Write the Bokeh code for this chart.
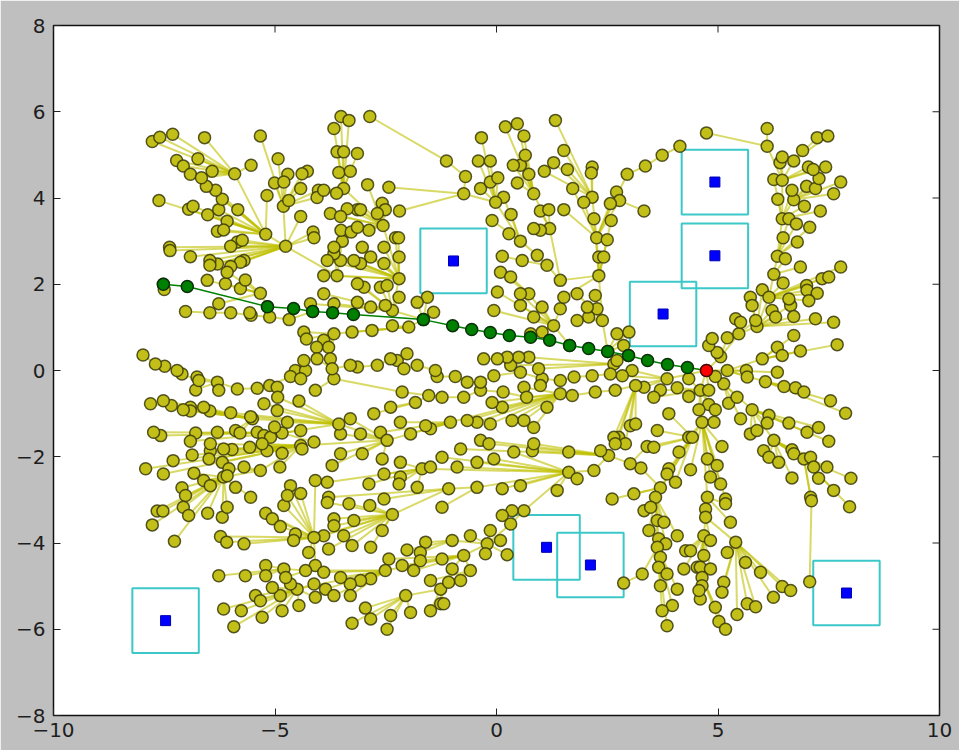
import math
from bokeh.plotting import figure
from bokeh.models import ColumnDataSource, FixedTicker, Range1d
from bokeh.embed import file_html
from bokeh.resources import INLINE

# ---------------- data ----------------
x_ticks = [-10, -5, 0, 5, 10]
y_ticks = [-8, -6, -4, -2, 0, 2, 4, 6, 8]
x_labels = {-10: "\u221210", -5: "\u22125", 0: "0", 5: "5", 10: "10"}
y_labels = {-8: "\u22128", -6: "\u22126", -4: "\u22124", -2: "\u22122", 0: "0", 2: "2", 4: "4", 6: "6", 8: "8"}
x_min, x_max = -10, 10
y_min, y_max = -8, 8

obs_x = [4.93, 4.93, 3.76, -0.97, 1.13, 2.12, 7.90, -7.47]
obs_y = [4.37, 2.66, 1.31, 2.54, -4.10, -4.51, -5.16, -5.80]
obs_side = 1.5

start_x = [4.74]
start_y = [0.00]

path_x = [-7.52, -6.98, -5.17, -4.58, -4.15, -3.70, -3.23, -1.65, -0.99, -0.56, -0.14,
          0.29, 0.77, 1.20, 1.65, 2.08, 2.51, 2.98, 3.41, 3.86, 4.31, 4.74]
path_y = [2.00, 1.95, 1.48, 1.44, 1.37, 1.34, 1.30, 1.18, 1.04, 0.95, 0.88,
          0.81, 0.77, 0.70, 0.58, 0.51, 0.44, 0.35, 0.23, 0.14, 0.07, 0.00]

# tree: fans = (hub, children) ; chains = consecutive nodes
fan_root = ((4.74, 0.00), [(5.06, 0.32), (5.21, 0.00), (5.13, -0.31), (4.60, -0.46), (4.79, -0.46), (3.85, -0.19), (4.94, -0.14)])
fan_ne1 = ((5.06, 0.32), [(4.98, 0.42), (4.79, 0.58), (5.21, 0.76), (5.47, 0.85)])
fan_ne1b = ((4.79, 0.58), [(4.87, 0.74)])
fan_ne2 = ((5.47, 0.85), [(5.88, 1.02), (5.85, 1.16), (5.40, 1.20), (5.51, 1.12)])
fan_ne3 = ((5.88, 1.02), [(5.73, 1.70), (5.77, 1.51), (6.00, 1.87), (6.15, 1.70), (6.22, 1.39), (6.30, 1.24), (6.64, 1.51), (6.71, 1.25), (7.20, 1.20), (7.61, 1.12)])
fan_ne4 = ((6.15, 1.70), [(6.26, 2.23), (6.47, 2.03), (6.60, 1.66), (7.00, 1.97), (7.01, 1.86), (7.24, 1.79), (7.05, 1.62), (7.35, 2.13), (7.50, 2.17), (7.77, 2.40)])
fan_ne5 = ((6.26, 2.23), [(6.34, 2.65), (6.52, 2.59), (6.86, 2.40)])
fan_ne6 = ((6.34, 2.65), [(6.47, 3.08), (6.79, 2.98), (6.45, 3.52), (6.60, 3.52), (6.77, 3.40), (7.07, 3.32)])
fan_ne7 = ((6.45, 3.52), [(6.35, 3.97), (6.71, 3.96), (6.95, 3.81), (7.31, 3.70), (6.26, 4.43), (6.45, 4.41), (6.67, 4.18)])
fan_ne8 = ((6.71, 3.96), [(7.00, 4.27), (7.20, 4.22), (7.28, 4.45), (7.61, 4.10), (7.77, 4.37)])
fan_ne9 = ((6.45, 4.41), [(6.40, 4.82), (6.45, 4.95), (6.71, 4.86), (7.04, 4.72), (7.15, 4.66), (7.43, 4.72), (6.11, 5.20)])
fan_ne10 = ((6.71, 4.86), [(6.91, 5.10), (7.24, 5.40), (7.48, 5.44)])
fan_ne11 = ((6.11, 5.20), [(6.11, 5.61), (4.74, 5.51)])
fan_e1 = ((5.21, 0.00), [(5.64, 0.00), (6.00, 0.27), (5.66, -0.15), (6.07, -0.26), (6.34, -0.04)])
fan_e2 = ((6.00, 0.27), [(6.34, 0.54), (6.45, 0.35), (6.86, 0.45), (6.71, 0.81), (7.69, 0.60)])
fan_e3 = ((6.07, -0.26), [(6.49, -0.37), (6.75, -0.40), (6.94, -0.50), (7.54, -0.70), (7.88, -0.99)])
fan_se1 = ((5.13, -0.31), [(5.24, -0.76), (5.43, -0.62), (5.77, -0.91), (5.51, -1.12)])
fan_se2 = ((5.77, -0.91), [(6.15, -1.04), (6.11, -1.22), (6.60, -1.22), (7.01, -1.43), (7.27, -1.32), (7.50, -1.64), (5.73, -1.47), (5.88, -1.39), (6.26, -1.62)])
fan_se3 = ((6.26, -1.62), [(6.03, -1.86), (6.15, -2.01), (6.37, -2.13), (6.67, -1.84), (6.71, -1.93), (6.94, -2.05), (7.09, -2.01), (7.16, -2.24), (7.46, -2.24), (6.67, -2.49)])
fan_se4 = ((6.94, -2.05), [(7.27, -2.50), (8.00, -2.50), (7.61, -2.78), (7.09, -2.94), (7.97, -3.16), (7.11, -3.02)])
fan_se5 = ((7.11, -3.02), [(7.07, -4.90)])
fan_s1 = ((4.60, -0.46), [(4.34, -0.19), (4.34, -0.60), (4.79, -0.79), (4.94, -0.91), (4.57, -0.91), (4.08, -0.40), (3.70, -0.45), (3.55, -0.62), (4.64, -1.20)])
fan_s2 = ((4.64, -1.20), [(4.91, -1.20), (4.34, -1.55), (4.42, -1.55), (5.09, -1.76), (4.76, -2.05), (4.98, -2.20), (4.38, -2.30), (4.83, -2.47), (5.06, -2.63), (4.76, -2.94), (5.17, -2.98)])
fan_s3 = ((4.42, -1.55), [(4.12, -1.89), (3.89, -2.28), (3.85, -2.40), (4.04, -2.59), (3.70, -2.72), (3.59, -2.94), (3.89, -1.00), (3.63, -1.39), (3.40, -1.76), (3.55, -1.78)])
fan_s4 = ((4.76, -2.94), [(4.72, -3.21), (4.72, -3.40), (5.17, -3.09), (5.28, -3.52)])
fan_s5 = ((4.72, -3.40), [(4.68, -3.83), (4.83, -3.94), (5.40, -3.98)])
fan_s6 = ((4.68, -3.83), [(4.27, -4.18), (4.38, -4.18), (4.23, -4.60), (4.53, -4.56), (4.68, -4.29), (4.60, -4.56), (4.83, -4.60), (4.64, -4.80)])
fan_s6b = ((4.64, -4.80), [(4.64, -4.99), (4.60, -5.30), (4.57, -5.10), (4.94, -5.49), (5.02, -5.82), (5.17, -6.00)])
fan_s7 = ((5.40, -3.98), [(5.21, -4.22), (5.62, -4.45), (5.96, -4.68), (5.13, -4.91), (5.09, -5.14), (5.43, -5.66), (5.66, -5.41), (5.85, -5.48), (6.25, -5.26), (6.45, -5.01), (6.64, -5.10)])
fan_s8 = ((3.59, -2.94), [(3.33, -3.25), (3.48, -3.17), (3.63, -3.48), (3.78, -3.52), (3.44, -3.71), (4.08, -3.83), (3.66, -3.90), (3.82, -4.02), (3.63, -4.10)])
fan_s9 = ((3.63, -4.10), [(3.70, -4.33), (3.66, -4.56), (3.85, -4.72), (3.70, -4.99), (4.08, -5.07), (3.97, -5.45), (3.74, -5.57), (3.85, -5.92), (3.29, -4.72)])
fan_s10 = ((3.29, -4.72), [(2.87, -4.93)])
fan_s11 = ((3.70, -2.72), [(3.26, -2.26), (3.10, -2.86), (2.61, -2.98)])

fan_m1 = ((3.85, -0.19), [(3.33, -0.39), (3.14, -0.35), (3.06, 0.00), (2.84, -0.12)])
fan_m2 = ((3.14, -0.35), [(3.02, -1.28), (3.14, -1.24), (2.76, -1.55), (2.65, -1.55), (2.91, -1.70), (2.68, -1.70)])
chain_w1 = [(3.14, -0.35), (2.68, -0.46), (2.23, -0.50), (1.71, -0.58), (1.44, -0.54), (0.68, -0.62), (0.15, -0.50), (-0.36, -0.46),
            (-0.74, -0.62), (-1.23, -0.62), (-1.53, -0.58), (-2.13, -0.50), (-3.67, -0.19), (-4.09, -0.46)]
chain_w2 = [(3.06, 0.00), (2.57, -0.08), (2.16, -0.12), (1.75, -0.15), (1.44, -0.23), (1.03, -0.19), (0.54, -0.04), (-0.06, -0.12),
            (-0.36, -0.27), (-0.66, -0.27), (-0.93, -0.14), (-1.34, -0.14), (-1.38, 0.00), (-1.79, 0.12), (-2.09, 0.04), (-2.24, 0.23),
            (-2.39, 0.27), (-2.69, 0.12), (-3.14, 0.08), (-3.30, 0.12), (-3.71, 0.04), (-4.05, 0.27), (-4.35, 0.23), (-4.54, 0.00),
            (-4.65, -0.14), (-5.12, -0.35), (-5.40, -0.41), (-5.85, -0.43), (-6.30, -0.27), (-6.72, -0.23), (-7.10, -0.08),
            (-7.21, 0.00), (-7.49, 0.10), (-7.70, 0.15), (-7.98, 0.36)]
fan_w2a = ((-4.54, 0.00), [(-4.31, 0.00)])
fan_w2b = ((-4.65, -0.14), [(-4.42, -0.19)])
fan_w2c = ((-5.12, -0.35), [(-4.95, -0.39)])
fan_w2d = ((-6.30, -0.27), [(-6.27, -0.46), (-6.79, -0.45), (-6.76, -0.15)])
fan_w2e = ((-2.24, 0.23), [(-2.02, 0.39)])
fan_w2f = ((1.03, -0.19), [(0.99, -0.35)])
chain_w3 = [(2.98, 0.35), (2.72, 0.23), (2.65, 0.15), (0.73, 0.31), (0.50, 0.31), (0.24, 0.31), (0.02, 0.27), (-0.29, 0.27)]
fan_w3 = ((2.65, 0.15), [(0.95, 0.04), (0.32, 0.12)])
fan_m5 = ((1.44, -0.54), [(0.62, -0.39), (1.14, -0.85), (0.84, -1.32), (0.62, -1.16), (0.35, -1.16), (0.13, -0.85), (-0.10, -0.74), (-0.44, -1.20), (-0.14, -1.24), (-1.04, -1.20), (-0.66, -1.16)])
fan_m6 = ((-1.04, -1.20), [(-1.49, -1.35), (-1.60, -1.28), (-1.94, -1.47), (-2.17, -1.20), (-2.62, -1.43), (-2.47, -1.62)])
fan_m7 = ((-2.47, -1.62), [(-3.07, -1.47), (-3.52, -1.47), (-3.56, -1.24), (-3.30, -1.12), (-3.03, -1.93), (-3.52, -1.93), (-2.58, -2.05), (-3.71, -2.20), (-4.42, -1.74)])
fan_m8 = ((-1.53, -0.58), [(-1.83, -0.74)])
fan_m8b = ((-1.83, -0.74), [(-2.39, -0.85), (-2.77, -1.00)])
chain_m9 = [(3.40, -1.76), (3.02, -2.16), (2.53, -1.97), (2.20, -2.32), (1.63, -2.36)]
fan_m9 = ((1.63, -2.36), [(1.82, -2.51), (1.37, -2.78), (0.54, -2.67), (0.13, -2.74), (-0.44, -2.71), (-0.89, -2.24), (-1.23, -2.01), (-1.68, -2.28), (-0.44, -2.13), (-0.06, -2.05), (0.39, -1.89)])
fan_m10 = ((2.53, -1.97), [(2.35, -1.86), (1.63, -1.89), (0.81, -1.86), (0.84, -1.70), (-0.36, -1.62), (-0.17, -1.70), (-0.81, -1.82)])
fan_m11 = ((-1.68, -2.28), [(-2.17, -2.13), (-2.54, -2.40), (-2.17, -2.47), (-2.20, -2.63), (-2.88, -2.63), (-3.82, -2.59), (-1.79, -2.71), (-1.49, -2.24)])
fan_m12 = ((-0.44, -2.71), [(-1.08, -2.74), (-1.23, -3.17)])
fan_m13 = ((-1.08, -2.74), [(-2.54, -2.98), (-3.79, -2.94), (-2.35, -3.34)])

fan_l1 = ((-2.35, -3.34), [(-2.86, -3.13), (-3.33, -3.09), (-3.82, -3.06), (-3.67, -3.44), (-3.22, -3.48), (-3.67, -3.60), (-3.45, -3.83), (-3.90, -3.83), (-4.12, -3.87), (-3.79, -4.14), (-3.26, -4.06), (-2.84, -4.10), (-2.58, -3.71)])
fan_l2 = ((-4.12, -3.87), [(-6.23, -3.85), (-6.09, -3.98), (-5.70, -4.02), (-5.21, -3.31), (-5.06, -3.44), (-4.88, -3.62), (-4.80, -3.13), (-4.54, -3.79), (-4.58, -3.94), (-4.24, -4.22), (-4.65, -2.67), (-4.42, -2.85), (-4.72, -2.90), (-4.09, -2.55), (-4.09, -4.52)])
chain_lb = [(1.63, -2.36), (0.62, -3.25), (0.32, -3.56), (-0.21, -4.02)]
fan_lb = ((0.62, -3.25), [(0.35, -3.25), (0.13, -3.36)])
fan_l4 = ((-0.21, -4.02), [(0.09, -3.94), (-0.14, -3.71), (-0.59, -3.83), (-1.00, -3.94), (-0.25, -4.25), (0.24, -4.27), (-0.74, -4.29)])
fan_l5 = ((-1.00, -3.94), [(-1.60, -3.98), (-2.02, -4.16), (-1.72, -4.22)])
fan_l6 = ((-0.74, -4.29), [(-1.23, -4.37), (-1.72, -4.41), (-1.00, -4.60), (-0.59, -4.64), (-2.43, -4.37), (-2.13, -4.52), (-1.87, -4.64), (-2.51, -4.64)])
fan_l7 = ((-0.59, -4.64), [(-1.26, -5.07), (-1.08, -4.91), (-1.49, -4.87), (-0.81, -4.87)])
fan_l8 = ((-1.26, -5.07), [(-2.05, -5.22), (-1.26, -5.41), (-1.19, -5.41), (-1.49, -5.57)])
fan_l9 = ((-2.05, -5.22), [(-2.96, -5.51), (-3.26, -5.86), (-2.84, -5.76), (-2.39, -5.68), (-2.47, -6.00), (-1.94, -5.61)])
fan_l10 = ((-2.51, -4.64), [(-2.84, -4.83), (-3.07, -4.87), (-3.30, -4.95), (-3.52, -4.80), (-3.90, -4.68), (-3.86, -5.07), (-3.67, -5.22), (-3.30, -5.22), (-4.31, -4.64), (-4.50, -5.07)])
fan_l11 = ((-4.50, -5.07), [(-5.44, -5.22), (-5.33, -5.34), (-6.16, -5.53), (-5.76, -5.57), (-5.29, -5.72), (-5.93, -5.94), (-4.84, -5.57), (-4.46, -5.45), (-4.88, -5.22), (-4.65, -4.95), (-5.06, -5.03), (-4.12, -4.95), (-4.09, -5.26)])
fan_l12 = ((-4.31, -4.64), [(-4.80, -4.60), (-4.76, -4.80)])
fan_l13 = ((-4.80, -4.60), [(-6.27, -4.76), (-5.67, -4.76), (-5.21, -4.52), (-5.21, -4.76)])

fan_lw2 = ((-3.56, -1.24), [(-4.72, -1.20), (-4.95, -0.93), (-5.25, -0.77), (-4.94, -0.62), (-4.46, -0.71), (-5.51, -1.12), (-5.55, -1.07), (-6.00, -0.98), (-4.84, -1.45)])
fan_lw3 = ((-5.51, -1.12), [(-6.47, -0.94), (-6.61, -0.85), (-6.91, -0.85), (-6.91, -0.94), (-7.07, -0.91), (-7.34, -0.81), (-7.52, -0.70), (-7.81, -0.77), (-5.89, -1.39), (-5.79, -1.45)])
fan_lw4 = ((-4.84, -1.45), [(-5.40, -1.43), (-5.25, -1.51), (-5.10, -1.55), (-5.01, -1.31), (-4.42, -1.39), (-4.12, -1.66), (-6.30, -1.43), (-6.79, -1.45), (-6.91, -1.64), (-7.58, -1.51), (-7.74, -1.43)])
fan_lw5 = ((-4.42, -1.74), [(-4.39, -1.82), (-4.84, -1.92), (-5.18, -1.86), (-5.29, -1.70), (-5.57, -1.78), (-5.97, -1.83), (-6.16, -1.82), (-6.46, -1.86), (-6.46, -1.70), (-6.87, -1.96), (-6.49, -2.05), (-6.19, -2.13), (-7.30, -2.09), (-7.92, -2.28), (-7.52, -2.40), (-5.33, -2.32), (-4.89, -2.24)])
fan_lw6 = ((-5.33, -2.32), [(-6.16, -2.47), (-5.70, -2.24), (-6.04, -2.28)])
fan_lw7 = ((-6.16, -2.47), [(-6.83, -2.38), (-6.61, -2.55), (-6.46, -2.67), (-6.08, -2.44), (-5.89, -2.71), (-7.10, -2.72), (-7.02, -2.90), (-7.66, -3.26), (-7.53, -3.26), (-7.77, -3.58), (-7.27, -3.96), (-7.07, -3.17), (-6.95, -3.36), (-6.52, -3.31), (-6.19, -3.40), (-6.08, -3.17), (-5.55, -2.94)])

fan_p1 = ((-1.65, 1.18), [(-1.98, 1.01), (-2.35, 1.39), (-1.42, 1.35), (-1.56, 1.70), (-1.79, 1.58)])
fan_p2 = ((-1.98, 1.01), [(-2.35, 1.04), (-2.81, 0.93), (-3.26, 0.89), (-3.67, 0.85)])
fan_p3 = ((-3.67, 0.85), [(-3.90, 0.70), (-3.79, 0.54), (-3.75, 0.27), (-4.35, 0.89), (-4.29, 0.73), (-4.06, 0.54)])
fan_p4 = ((-2.35, 1.39), [(-2.51, 1.51), (-2.84, 1.47), (-3.14, 1.58), (-3.67, 1.55), (-3.90, 1.78), (-2.62, 1.93), (-2.47, 1.97), (-2.99, 1.93), (-3.14, 2.01), (-2.20, 2.13), (-2.20, 1.70), (-4.20, 1.55)])
fan_p5 = ((-2.20, 2.13), [(-2.54, 2.48), (-2.84, 2.63), (-3.07, 2.48), (-3.22, 2.55), (-3.52, 2.55), (-3.67, 2.71), (-3.82, 2.55), (-3.60, 2.20), (-3.90, 2.20), (-2.20, 2.63), (-2.28, 3.08), (-2.21, 3.08), (-3.03, 2.86), (-2.54, 2.86), (-2.56, 3.36)])
fan_p6 = ((-3.60, 2.20), [(-4.76, 2.88), (-3.48, 3.00), (-3.67, 2.86)])
fan_nw1 = ((-4.76, 2.88), [(-5.21, 3.16), (-5.85, 2.98), (-5.74, 3.02), (-6.00, 2.88), (-7.38, 2.86), (-5.70, 2.55), (-5.78, 2.51), (-6.00, 2.41), (-6.30, 2.47), (-6.47, 2.55), (-6.47, 2.44), (-6.91, 2.64), (-7.37, 2.78), (-4.42, 3.57), (-4.14, 3.21), (-4.12, 3.08), (-4.81, 3.81)])
fan_nw2 = ((-5.21, 3.16), [(-6.08, 3.46), (-6.30, 3.23), (-6.16, 3.26), (-6.52, 3.61), (-6.27, 3.73), (-5.84, 3.73), (-6.95, 3.74), (-6.85, 3.81), (-7.62, 3.94), (-6.19, 3.97), (-5.18, 4.06), (-6.34, 4.18), (-6.55, 4.27), (-5.91, 4.56)])
fan_nw3 = ((-5.91, 4.56), [(-7.77, 5.31), (-7.60, 5.41), (-7.31, 5.48), (-7.22, 4.87), (-7.07, 4.74), (-6.74, 4.91), (-6.91, 4.55), (-6.66, 4.47), (-6.42, 4.62), (-6.59, 5.40), (-5.54, 4.76)])
fan_nw4 = ((-4.81, 3.81), [(-5.33, 5.44), (-4.93, 4.91), (-4.71, 4.55), (-4.27, 4.62), (-4.39, 4.56), (-5.01, 4.35), (-4.80, 4.37), (-4.42, 4.22), (-4.02, 4.18), (-4.05, 4.01), (-4.69, 3.94)])
chain_r134 = [(-4.15, 1.37), (-4.68, 1.18), (-5.12, 1.24), (-5.54, 1.28), (-6.00, 1.34), (-6.47, 1.34), (-7.02, 1.37)]
fan_r134 = ((-5.54, 1.28), [(-5.57, 1.34)])
fan_p19 = ((-5.17, 1.48), [(-5.33, 1.79)])
fan_l0 = ((-5.33, 1.79), [(-5.78, 1.90), (-5.67, 2.10), (-6.12, 2.01), (-6.53, 2.09), (-6.27, 1.55), (-6.08, 2.28)])
fan_p21 = ((-7.52, 2.00), [(-7.50, 1.88)])
fan_um1 = ((-2.56, 3.36), [(-2.91, 4.31), (-2.58, 3.88), (-2.51, 3.73), (-2.69, 3.64), (-3.14, 3.73), (-3.37, 3.75), (-3.07, 3.73), (-3.75, 3.64), (-3.52, 3.57), (-2.88, 3.25), (-3.51, 3.25), (-3.28, 3.21), (-3.14, 3.32), (-3.45, 4.22)])
fan_um2 = ((-3.45, 4.22), [(-3.51, 5.89), (-3.33, 5.80), (-3.67, 5.61), (-3.60, 5.07), (-3.45, 5.07), (-3.14, 5.03), (-3.56, 4.59), (-3.30, 4.62), (-3.90, 4.18), (-3.61, 4.11)])

fan_c0 = ((1.65, 0.58), [(1.29, 1.04)])
fan_c1 = ((1.29, 1.04), [(0.84, 1.24), (1.03, 1.47), (1.44, 1.43), (0.54, 1.51), (-0.06, 1.39), (0.73, 1.78), (0.54, 1.78), (0.02, 1.82), (1.03, 0.89), (0.77, 0.85)])
fan_c2 = ((0.73, 1.78), [(0.09, 2.28), (0.32, 2.17)])
fan_c3 = ((2.51, 0.44), [(2.39, 1.16), (2.87, 0.58), (2.72, 0.85), (2.99, 0.89)])
fan_c4 = ((2.39, 1.16), [(2.27, 1.43), (2.23, 1.74), (2.08, 1.24), (2.05, 1.47), (1.82, 1.16), (1.82, 1.78), (2.31, 2.20)])
fan_c5 = ((2.31, 2.20), [(2.31, 2.63), (2.42, 2.63), (2.26, 3.08), (2.50, 3.03), (2.20, 3.52), (2.59, 3.48), (1.44, 2.09), (1.52, 1.70)])
fan_c6 = ((2.26, 3.08), [(2.16, 4.02), (1.97, 3.90), (2.71, 4.14), (2.78, 3.94), (2.57, 3.87), (2.95, 4.55), (1.72, 4.22), (1.52, 3.73)])
fan_c7 = ((2.16, 4.02), [(2.16, 4.72), (2.14, 4.58), (1.60, 4.66), (1.52, 5.10), (1.33, 5.80), (1.29, 4.82), (1.08, 4.62)])
chain_c8 = [(2.95, 4.55), (3.36, 4.74), (3.74, 4.99), (4.14, 5.20)]
fan_c9 = ((2.78, 3.94), [(3.33, 3.70)])
fan_c10 = ((1.44, 2.09), [(1.14, 2.44), (1.20, 3.29)])
fan_c11 = ((1.14, 2.44), [(0.92, 2.67), (0.58, 2.55)])
fan_c12 = ((0.58, 2.55), [(0.13, 2.65)])
fan_c13 = ((1.20, 3.29), [(0.99, 3.25), (0.84, 3.29), (0.99, 3.70), (1.18, 3.73), (0.84, 4.10)])
fan_c14 = ((0.84, 4.10), [(0.47, 4.35), (0.73, 4.55), (0.54, 4.76), (0.38, 4.76), (0.65, 4.99), (0.62, 5.44), (0.47, 5.72), (0.20, 5.65)])
fan_c15 = ((0.92, 2.67), [(0.54, 3.00)])
fan_c16 = ((0.54, 3.00), [(0.28, 3.17), (0.33, 3.62), (-0.10, 3.48), (0.16, 4.02), (-0.02, 3.90)])
fan_c17 = ((-0.02, 3.90), [(-0.36, 4.22), (-0.14, 4.37), (0.03, 4.47), (-0.41, 4.86), (-0.14, 4.86), (-0.34, 5.40), (-0.74, 4.10)])
fan_c18 = ((-0.74, 4.10), [(-0.70, 4.50), (-2.43, 4.25), (-2.19, 3.70)])
fan_c19 = ((-0.70, 4.50), [(-1.13, 4.86)])
fan_c20 = ((-1.13, 4.86), [(-2.86, 5.89)])

fans = [fan_root, fan_ne1, fan_ne1b, fan_ne2, fan_ne3, fan_ne4, fan_ne5, fan_ne6, fan_ne7, fan_ne8, fan_ne9,
        fan_ne10, fan_ne11, fan_e1, fan_e2, fan_e3, fan_se1, fan_se2, fan_se3, fan_se4, fan_se5,
        fan_s1, fan_s2, fan_s3, fan_s4, fan_s5, fan_s6, fan_s6b, fan_s7, fan_s8, fan_s9, fan_s10, fan_s11,
        fan_m1, fan_m2, fan_w2a, fan_w2b, fan_w2c, fan_w2d, fan_w2e, fan_w2f, fan_w3, fan_m5, fan_m6, fan_m7,
        fan_m8, fan_m8b, fan_m9, fan_m10, fan_m11, fan_m12, fan_m13,
        fan_l1, fan_l2, fan_lb, fan_l4, fan_l5, fan_l6, fan_l7, fan_l8, fan_l9, fan_l10, fan_l11, fan_l12, fan_l13,
        fan_lw2, fan_lw3, fan_lw4, fan_lw5, fan_lw6, fan_lw7,
        fan_p1, fan_p2, fan_p3, fan_p4, fan_p5, fan_p6, fan_nw1, fan_nw2, fan_nw3, fan_nw4, fan_r134, fan_p19,
        fan_l0, fan_p21, fan_um1, fan_um2,
        fan_c0, fan_c1, fan_c2, fan_c3, fan_c4, fan_c5, fan_c6, fan_c7, fan_c9, fan_c10, fan_c11, fan_c12,
        fan_c13, fan_c14, fan_c15, fan_c16, fan_c17, fan_c18, fan_c19, fan_c20]
chains = [chain_w1, chain_w2, chain_w3, chain_m9, chain_lb, chain_r134, chain_c8]

# ---------------- build sources ----------------
ex0, ey0, ex1, ey1 = [], [], [], []
node_set = {}


def add_node(pt):
    node_set[(round(pt[0], 2), round(pt[1], 2))] = True


def add_edge(a, b):
    ex0.append(a[0]); ey0.append(a[1]); ex1.append(b[0]); ey1.append(b[1])


for hub, kids in fans:
    add_node(hub)
    for k in kids:
        add_edge(hub, k)
        add_node(k)
for ch in chains:
    for a, b in zip(ch[:-1], ch[1:]):
        add_edge(a, b)
        add_node(a)
        add_node(b)

nx = [k[0] for k in node_set]
ny = [k[1] for k in node_set]

edge_src = ColumnDataSource(dict(x0=ex0, y0=ey0, x1=ex1, y1=ey1))
node_src = ColumnDataSource(dict(x=nx, y=ny))

# ---------------- figure ----------------
p = figure(width=959, height=750, x_range=Range1d(x_min, x_max), y_range=Range1d(y_min, y_max),
           output_backend="svg", toolbar_location=None,
           min_border_left=53, min_border_right=20, min_border_top=25, min_border_bottom=35)
p.border_fill_color = "#bfbfbf"
p.background_fill_color = "white"
p.outline_line_color = "#111111"
p.outline_line_width = 1.5
p.grid.visible = False

for ax in (p.xaxis[0], p.yaxis[0]):
    ax.major_tick_in = 7
    ax.major_tick_out = 0
    ax.major_tick_line_color = "#222222"
    ax.minor_tick_line_color = None
    ax.axis_line_color = None
    ax.major_label_text_font = "DejaVu Sans"
    ax.major_label_text_font_size = "20px"
    ax.major_label_text_color = "#1e1e1e"
p.xaxis.major_label_standoff = 7
p.yaxis.major_label_standoff = 8
p.xaxis.ticker = FixedTicker(ticks=x_ticks)
p.yaxis.ticker = FixedTicker(ticks=y_ticks)
p.xaxis.major_label_overrides = x_labels
p.yaxis.major_label_overrides = y_labels

# mirrored inward ticks on the top and right edges (half of each dash is clipped by the frame)
p.scatter(x=x_ticks, y=[y_max] * len(x_ticks), marker="dash", size=14, angle=math.pi / 2,
          line_color="#222222", line_width=1)
p.scatter(x=[x_max] * len(y_ticks), y=y_ticks, marker="dash", size=14, angle=0,
          line_color="#222222", line_width=1)

# obstacles
p.rect(x=obs_x, y=obs_y, width=obs_side, height=obs_side, fill_color=None,
       line_color="#3cc8c8", line_width=2)
p.scatter(obs_x, obs_y, marker="square", size=10, fill_color="#0000ff", line_color="#0000b0")

# tree
p.segment(x0="x0", y0="y0", x1="x1", y1="y1", source=edge_src,
          line_color="#bfbf00", line_alpha=0.6, line_width=2)
p.scatter(x="x", y="y", source=node_src, size=12, fill_color="#c2c018",
          line_color="#3a3a08", line_alpha=0.85, line_width=1.5)

# path
p.line(path_x, path_y, line_color="#008000", line_width=1.5)
p.scatter(path_x[:-1], path_y[:-1], size=12, fill_color="#008000", line_color="#0a300a", line_width=1.5)
p.scatter(start_x, start_y, size=12, fill_color="#ff0000", line_color="#4a0a0a", line_width=1.5)

open("out.html", "w").write(file_html(p, INLINE))
